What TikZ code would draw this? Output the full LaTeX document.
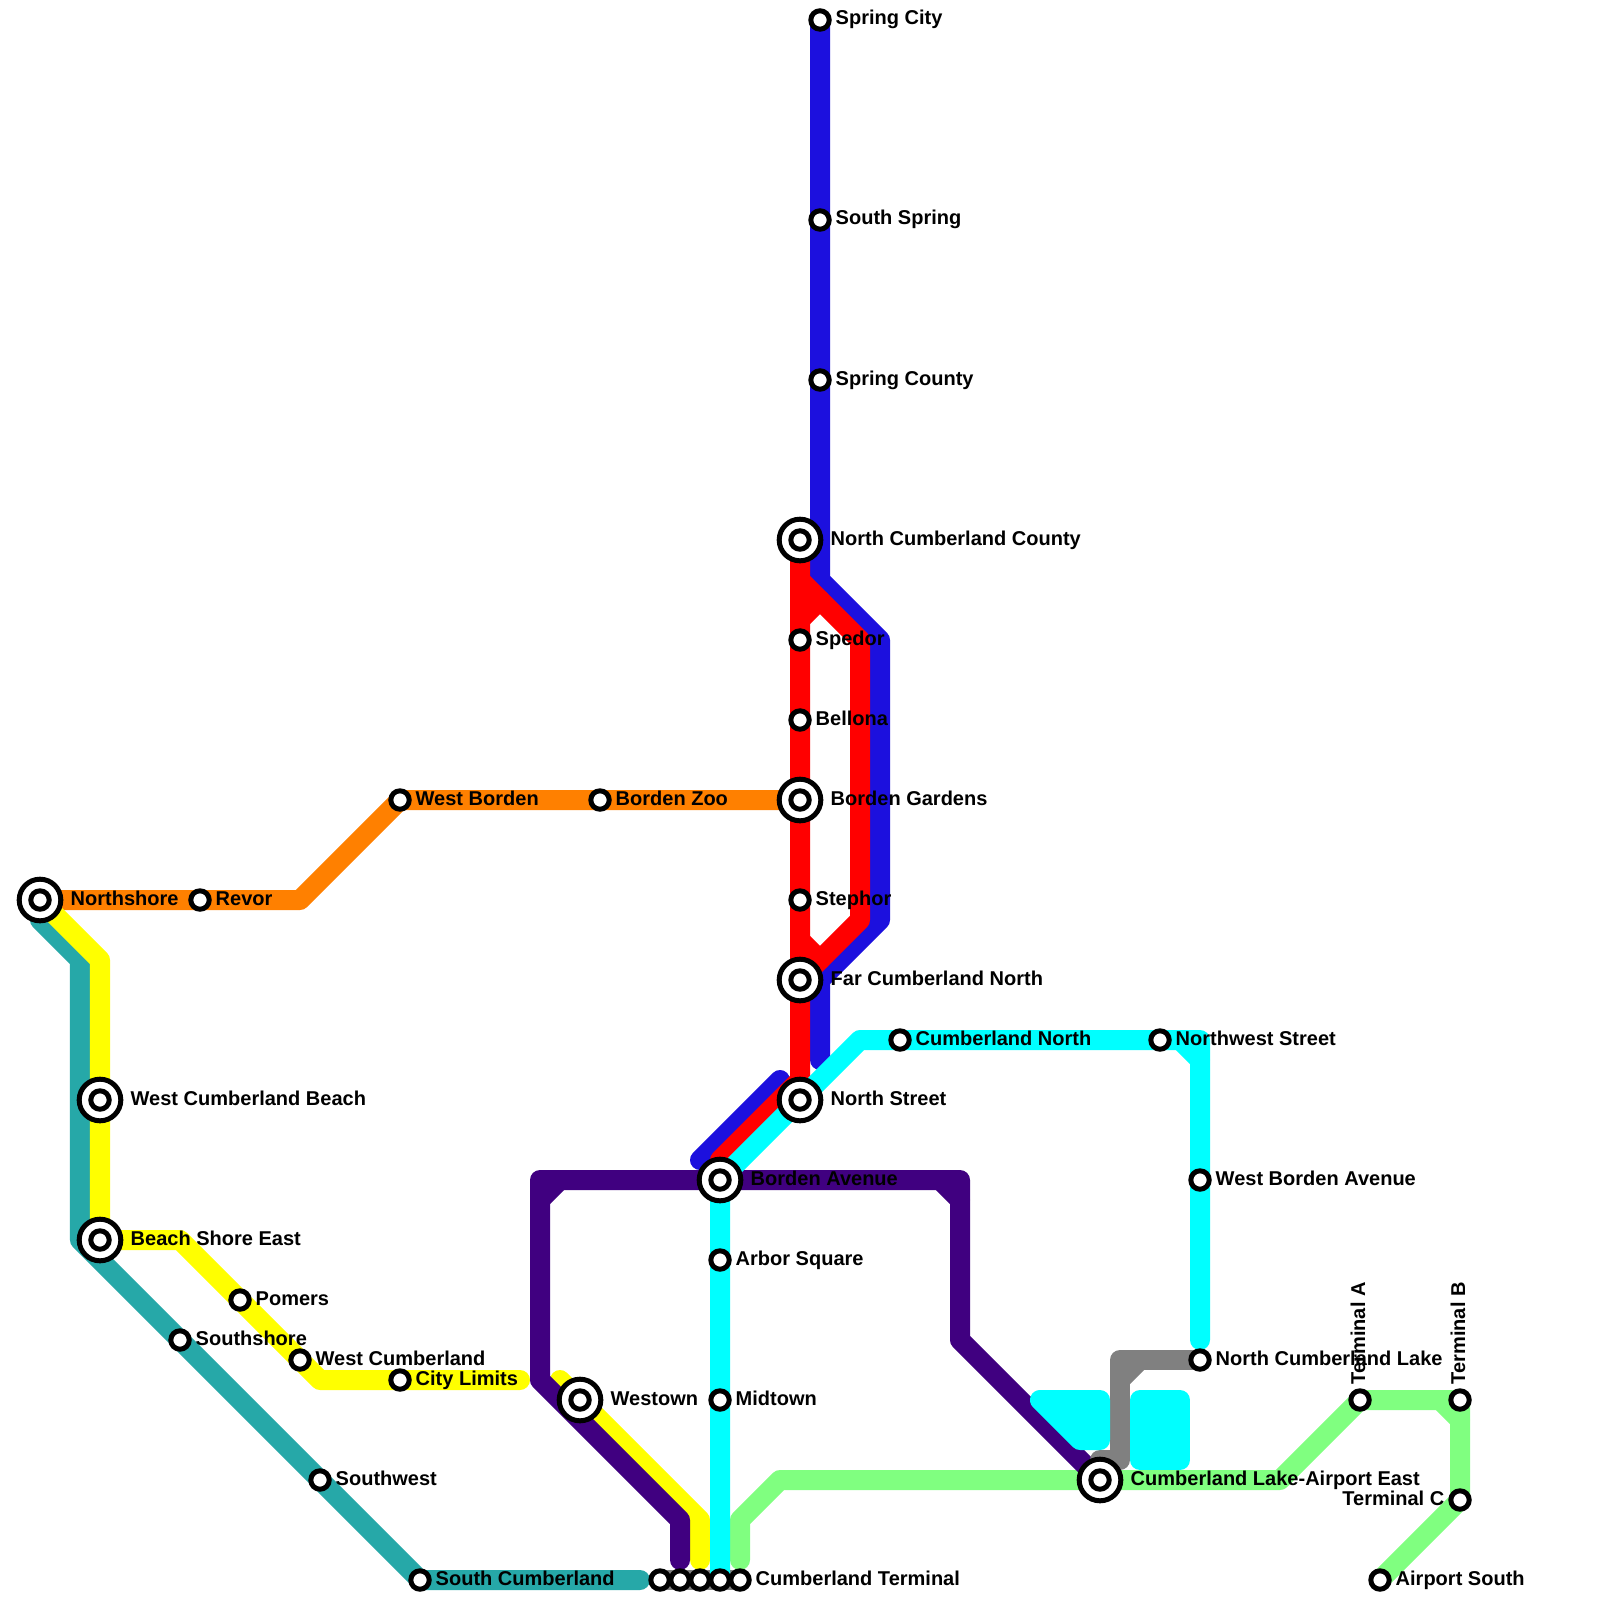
\documentclass[tikz,border=0pt]{standalone}
\usepackage{fontspec}
\setmainfont{Liberation Sans}
\usetikzlibrary{positioning,backgrounds}
\definecolor{lineblue}{HTML}{1C10DE}
\definecolor{linered}{HTML}{FF0000}
\definecolor{linecyan}{HTML}{00FFFF}
\definecolor{lineyellow}{HTML}{FFFF00}
\definecolor{linegray}{HTML}{808080}
\definecolor{linepurple}{HTML}{400080}
\definecolor{lineteal}{HTML}{26A8A8}
\definecolor{linegreen}{HTML}{80FF80}
\definecolor{lineorange}{HTML}{FF8000}
\begin{document}
\begin{tikzpicture}[x=.01cm,y=-.01cm]
\tikzstyle{sn}=[draw=black,fill=white,circle,line width=.05cm,inner sep=0pt,outer sep=0pt,minimum size=.184cm]
\tikzstyle{bn}=[draw=black,fill=white,circle,line width=.05cm,inner sep=0pt,outer sep=0pt,minimum size=.416cm]
\tikzstyle{ln}=[line width=.2cm,line cap=round,line join=round]
\tikzstyle{lb}=[anchor=base west,inner sep=0pt,font=\fontsize{5.69pt}{6.8pt}\selectfont\bfseries]
\useasboundingbox (0,0) rectangle (1600,1600);
% stations
\node [sn] (springcity) at (820,20) {};
\node [sn] (southspring) at (820,220) {};
\node [sn] (springcounty) at (820,380) {};
\node [bn] (northcounty) at (800,540) {};
\node [sn] (spedor) at (800,640) {};
\node [sn] (bellona) at (800,720) {};
\node [bn] (gardens) at (800,800) {};
\node [sn] (stephor) at (800,900) {};
\node [bn] (farnorth) at (800,980) {};
\node [bn] (northstreet) at (800,1100) {};
\node [bn] (avenue) at (720,1180) {};
\node [sn] (arbor) at (720,1260) {};
\node [sn] (midtown) at (720,1400) {};
\node [sn] (terma) at (660,1580) {};
\node [sn] (termb) at (680,1580) {};
\node [sn] (termc) at (700,1580) {};
\node [sn] (termd) at (720,1580) {};
\node [sn] (terme) at (740,1580) {};
\node [sn] (southcumb) at (420,1580) {};
\node [sn] (southwest) at (320,1480) {};
\node [sn] (southshore) at (180,1340) {};
\node [sn] (westcumb) at (300,1360) {};
\node [sn] (pomers) at (240,1300) {};
\node [bn] (beachshore) at (100,1240) {};
\node [bn] (westbeach) at (100,1100) {};
\node [bn] (northshore) at (40,900) {};
\node [sn] (revor) at (200,900) {};
\node [sn] (westborden) at (400,800) {};
\node [sn] (zoo) at (600,800) {};
\node [sn] (limits) at (400,1380) {};
\node [bn] (westown) at (580,1400) {};
\node [sn] (cumbnorth) at (900,1040) {};
\node [sn] (northwest) at (1160,1040) {};
\node [sn] (westavenue) at (1200,1180) {};
\node [sn] (lake) at (1200,1360) {};
\node [bn] (airporteast) at (1100,1480) {};
\node [sn] (terminala) at (1360,1400) {};
\node [sn] (terminalb) at (1460,1400) {};
\node [sn] (terminalc) at (1460,1500) {};
\node [sn] (airportsouth) at (1380,1580) {};
% inner rings of the large stations
\node [sn] (northcountyin) at (northcounty) {};
\node [sn] (gardensin) at (gardens) {};
\node [sn] (farnorthin) at (farnorth) {};
\node [sn] (northstreetin) at (northstreet) {};
\node [sn] (avenuein) at (avenue) {};
\node [sn] (beachshorein) at (beachshore) {};
\node [sn] (westbeachin) at (westbeach) {};
\node [sn] (northshorein) at (northshore) {};
\node [sn] (westownin) at (westown) {};
\node [sn] (airporteastin) at (airporteast) {};
% bends and line ends
\coordinate (b1) at (820,580);
\coordinate (b2) at (880,640);
\coordinate (b3) at (880,920);
\coordinate (b4) at (820,980);
\coordinate (b5) at (820,1060);
\coordinate (b6) at (780,1080);
\coordinate (b7) at (700,1160);
\coordinate (r0) at (800,580);
\coordinate (r1) at (800,620);
\coordinate (r2) at (820,600);
\coordinate (r3) at (860,640);
\coordinate (r4) at (860,920);
\coordinate (r5) at (820,960);
\coordinate (r6) at (800,940);
\coordinate (r7) at (800,1080);
\coordinate (r8) at (720,1160);
\coordinate (o1) at (300,900);
\coordinate (t1) at (40,920);
\coordinate (t2) at (80,960);
\coordinate (t3) at (80,1240);
\coordinate (t4) at (640,1580);
\coordinate (y1) at (100,960);
\coordinate (y2) at (180,1240);
\coordinate (y3) at (320,1380);
\coordinate (y4) at (520,1380);
\coordinate (y5) at (560,1380);
\coordinate (y6) at (700,1520);
\coordinate (y7) at (700,1560);
\coordinate (p1) at (540,1180);
\coordinate (p2) at (540,1380);
\coordinate (p3) at (680,1520);
\coordinate (p4) at (680,1560);
\coordinate (p5) at (960,1180);
\coordinate (p6) at (960,1340);
\coordinate (p7) at (540,1200);
\coordinate (p8) at (560,1180);
\coordinate (p9) at (940,1180);
\coordinate (p10) at (960,1200);
\coordinate (c1) at (740,1160);
\coordinate (c2) at (860,1040);
\coordinate (c3) at (1200,1040);
\coordinate (c4) at (1200,1340);
\coordinate (c5) at (1180,1040);
\coordinate (c6) at (1200,1060);
\coordinate (d1) at (1120,1360);
\coordinate (d2) at (1120,1460);
\coordinate (d3) at (1100,1460);
\coordinate (d4) at (1120,1380);
\coordinate (d5) at (1140,1360);
\coordinate (g1) at (740,1560);
\coordinate (g2) at (740,1520);
\coordinate (g3) at (780,1480);
\coordinate (g4) at (1280,1480);
\coordinate (g5) at (1440,1400);
\coordinate (g6) at (1460,1420);
\coordinate (f1) at (1040,1400);
\coordinate (f2) at (1100,1400);
\coordinate (f3) at (1100,1440);
\coordinate (f4) at (1080,1440);
\coordinate (e1) at (1140,1400);
\coordinate (e2) at (1180,1400);
\coordinate (e3) at (1180,1460);
\coordinate (e4) at (1140,1460);
\begin{scope}[on background layer]
\fill [white] (0,0) rectangle (1600,1600);
\draw [ln,draw=lineorange] (northshore.center) -- (o1) -- (westborden.center) -- (gardens.center);
\draw [ln,draw=lineteal] (northshore.center) -- (t1) -- (t2) -- (t3) -- (southcumb.center) -- (t4);
\draw [ln,draw=lineyellow] (northshore.center) -- (y1) -- (beachshore.center) -- (y2) -- (y3) -- (y4);
\draw [ln,draw=lineyellow] (y5) -- (y6) -- (y7);
\draw [ln,draw=linegreen] (g1) -- (g2) -- (g3) -- (g4) -- (terminala.center) -- (terminalb.center) -- (terminalc.center) -- (airportsouth.center);
\draw [ln,draw=linegreen] (g5) -- (g6);
\draw [ln,draw=linepurple] (p4) -- (p3) -- (p2) -- (p1) -- (p5) -- (p6) -- (airporteast.center);
\draw [ln,draw=linepurple] (p7) -- (p8);
\draw [ln,draw=linepurple] (p9) -- (p10);
\draw [ln,draw=lineblue] (springcity.center) -- (b1) -- (b2) -- (b3) -- (b4) -- (b5);
\draw [ln,draw=lineblue] (b6) -- (b7);
\draw [ln,draw=linered] (northcounty.center) -- (r7) -- (r8) -- (avenue.center);
\draw [ln,draw=linered] (r0) -- (r3) -- (r4) -- (farnorth.center);
\draw [ln,draw=linered] (r1) -- (r2);
\draw [ln,draw=linered] (r6) -- (r5);
\draw [ln,draw=linegray] (lake.center) -- (d1) -- (d2) -- (d3) -- (airporteast.center);
\draw [ln,draw=linegray] (d4) -- (d5);
\draw [ln,draw=linegray] (terma.center) -- (terme.center);
\draw [ln,draw=linecyan] (termd.center) -- (avenue.center) -- (c1) -- (c2) -- (c3) -- (c4);
\draw [ln,draw=linecyan] (c5) -- (c6);
\draw [ln,draw=linecyan,fill=linecyan] (f1) -- (f2) -- (f3) -- (f4) -- cycle;
\draw [ln,draw=linecyan,fill=linecyan] (e1) -- (e2) -- (e3) -- (e4) -- cycle;
\end{scope}
% labels
\node [lb] (lspringcity) at (835,25) {Spring City};
\node [lb] (lsouthspring) at (835,225) {South Spring};
\node [lb] (lspringcounty) at (835,385) {Spring County};
\node [lb] (lnorthcounty) at (830,545) {North Cumberland County};
\node [lb] (lspedor) at (815,645) {Spedor};
\node [lb] (lbellona) at (815,725) {Bellona};
\node [lb] (lgardens) at (830,805) {Borden Gardens};
\node [lb] (lstephor) at (815,905) {Stephor};
\node [lb] (lfarnorth) at (830,985) {Far Cumberland North};
\node [lb] (lnorthstreet) at (830,1105) {North Street};
\node [lb] (lavenue) at (750,1185) {Borden Avenue};
\node [lb] (larbor) at (735,1265) {Arbor Square};
\node [lb] (lmidtown) at (735,1405) {Midtown};
\node [lb] (lterme) at (755,1585) {Cumberland Terminal};
\node [lb] (lsouthcumb) at (435,1585) {South Cumberland};
\node [lb] (lsouthwest) at (335,1485) {Southwest};
\node [lb] (lsouthshore) at (195,1345) {Southshore};
\node [lb] (lwestcumb) at (315,1365) {West Cumberland};
\node [lb] (lpomers) at (255,1305) {Pomers};
\node [lb] (lbeachshore) at (130,1245) {Beach Shore East};
\node [lb] (lwestbeach) at (130,1105) {West Cumberland Beach};
\node [lb] (lnorthshore) at (70,905) {Northshore};
\node [lb] (lrevor) at (215,905) {Revor};
\node [lb] (lwestborden) at (415,805) {West Borden};
\node [lb] (lzoo) at (615,805) {Borden Zoo};
\node [lb] (llimits) at (415,1385) {City Limits};
\node [lb] (lwestown) at (610,1405) {Westown};
\node [lb] (lcumbnorth) at (915,1045) {Cumberland North};
\node [lb] (lnorthwest) at (1175,1045) {Northwest Street};
\node [lb] (lwestavenue) at (1215,1185) {West Borden Avenue};
\node [lb] (llake) at (1215,1365) {North Cumberland Lake};
\node [lb] (lairporteast) at (1130,1485) {Cumberland Lake-Airport East};
\node [lb,rotate=90] (lterminala) at (1365,1385) {Terminal A};
\node [lb,rotate=90] (lterminalb) at (1465,1385) {Terminal B};
\node [lb,anchor=base east] (lterminalc) at (1445,1505) {Terminal C};
\node [lb] (lairportsouth) at (1395,1585) {Airport South};
\end{tikzpicture}
\end{document}
